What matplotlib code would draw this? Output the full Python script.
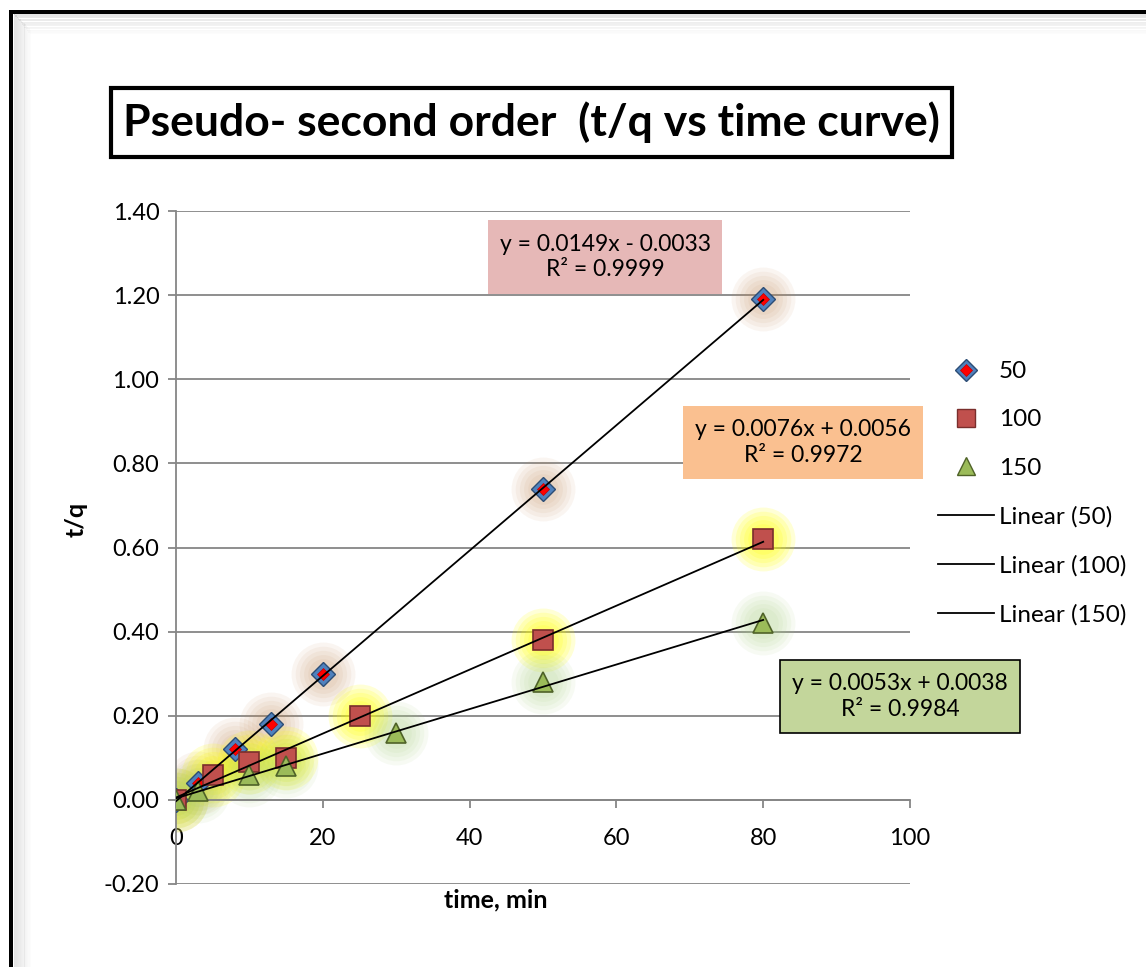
import numpy as np
import matplotlib
matplotlib.use("Agg")
import matplotlib.pyplot as plt
from matplotlib.patches import Rectangle
from matplotlib.lines import Line2D

plt.rcParams['font.family'] = ['Lato', 'DejaVu Sans']

# datos
t50 = [0, 3, 8, 13, 20, 50, 80]
q50 = [0.00, 0.04, 0.12, 0.18, 0.30, 0.74, 1.19]
t100 = [0, 5, 10, 15, 25, 50, 80]
q100 = [0.00, 0.06, 0.09, 0.10, 0.20, 0.38, 0.62]
t150 = [0, 3, 10, 15, 30, 50, 80]
q150 = [0.00, 0.02, 0.06, 0.08, 0.16, 0.28, 0.42]

# pendientes e interceptos de las lineas de tendencia
slopes = [0.0149, 0.0076, 0.0053]
intercepts = [-0.0033, 0.0056, 0.0038]
r2 = [0.9999, 0.9972, 0.9984]
series_names = ['50', '100', '150']

xticks = [0, 20, 40, 60, 80, 100]
yticks = [-0.20, 0.00, 0.20, 0.40, 0.60, 0.80, 1.00, 1.20, 1.40]

W, H = 1146, 967
fig = plt.figure(figsize=(W / 100, H / 100), dpi=100)

def fx(x):
    return x / W

def fy(y):
    return 1 - y / H

# marco exterior con sombra
for i, a in enumerate(np.linspace(0.25, 0.0, 14)):
    fig.add_artist(Rectangle((fx(14 + i * 1.3), 0), 0.0013, fy(14 + i * 1.3),
                             transform=fig.transFigure, color='#909090', alpha=a, lw=0))
    fig.add_artist(Rectangle((fx(14 + i * 1.3), fy(15 + i * 1.6)), 1, 0.0012,
                             transform=fig.transFigure, color='#909090', alpha=a, lw=0))
fig.add_artist(Rectangle((fx(9), 0), fx(4), fy(10),
                         transform=fig.transFigure, color='black', lw=0))
fig.add_artist(Rectangle((fx(9), fy(14)), 1, 4 / H,
                         transform=fig.transFigure, color='black', lw=0))

ax = fig.add_axes([fx(176), fy(884), fx(910) - fx(176), fy(211) - fy(884)])

glow_colors = ['#c08858', '#ffff00', '#a8d080']
glow_alpha = [0.08, 0.16, 0.09]
data = [(t50, q50), (t100, q100), (t150, q150)]

# resplandor alrededor de los puntos
for (t, q), gc, ga in zip(data, glow_colors, glow_alpha):
    for ms in [46, 40, 34, 28, 22]:
        ax.plot(t, q, 'o', ms=ms, color=gc, alpha=ga, mec='none', zorder=2)

# lineas de tendencia
xl = np.array([0, 80])
for m, b in zip(slopes, intercepts):
    ax.plot(xl, m * xl + b, color='black', lw=1.3, zorder=6)

h50a, = ax.plot(t50, q50, 'D', ms=12, color='#4f81bd', mec='#2c4d75', mew=1.0, zorder=5)
h50b, = ax.plot(t50, q50, 'D', ms=6.5, color='#ff0000', mec='#c00000', mew=0.5, zorder=5)
h100, = ax.plot(t100, q100, 's', ms=15, color='#c0504d', mec='#7a2e2c', mew=1.2, zorder=5)
h150, = ax.plot(t150, q150, '^', ms=15, color='#9bbb59', mec='#4f6228', mew=1.2, zorder=5)

ax.set_xlim(0, 100)
ax.set_ylim(-0.20, 1.40)
ax.set_xticks(xticks)
ax.set_yticks(yticks)
ax.set_yticklabels(['%.2f' % v for v in yticks])
ax.yaxis.grid(True, color='#868686', lw=1.3)
ax.set_axisbelow(True)
for s in ['top', 'right']:
    ax.spines[s].set_visible(False)
ax.spines['bottom'].set_position(('data', 0))
for s in ['left', 'bottom']:
    ax.spines[s].set_color('#868686')
    ax.spines[s].set_linewidth(1.3)
ax.tick_params(axis='y', direction='out', length=6, width=1.3, color='#868686',
               labelsize=17, pad=6)
ax.tick_params(axis='x', direction='out', length=6, width=1.3, color='#868686',
               labelsize=17, pad=14)

ax.set_xlabel('time, min', fontsize=18, fontweight='bold')
ax.xaxis.set_label_coords(0.435, -0.006)
ax.set_ylabel('t/q', fontsize=18, fontweight='bold')
ax.yaxis.set_label_coords(-0.12, 0.541)

# leyenda
lin = [Line2D([], [], color='black', lw=1.3) for _ in range(3)]
l50a = Line2D([], [], ls='', marker='D', ms=11, color='#4f81bd', mec='#2c4d75')
l50b = Line2D([], [], ls='', marker='D', ms=6, color='#ff0000', mec='#c00000', mew=0.5)
l100 = Line2D([], [], ls='', marker='s', ms=13, color='#c0504d', mec='#7a2e2c')
l150 = Line2D([], [], ls='', marker='^', ms=13, color='#9bbb59', mec='#4f6228')
handles = [(l50a, l50b), l100, l150] + lin
labels = series_names + ['Linear (%s)' % s for s in series_names]
fig.legend(handles, labels, loc='upper left', bbox_to_anchor=(fx(938), fy(361)),
           frameon=False, fontsize=17.5, labelspacing=1.13, handlelength=2.3,
           handletextpad=0.2, borderaxespad=0, borderpad=0)

# titulo en recuadro
fig.add_artist(Rectangle((fx(111), fy(157)), fx(952) - fx(111), fy(88) - fy(157),
                         transform=fig.transFigure, fill=False, ec='black', lw=3))
fig.text(fx(531), fy(122), 'Pseudo- second order  (t/q vs time curve)',
         fontsize=32, fontweight='bold', ha='center', va='center')

# cajas con ecuaciones
boxes = [(488, 220, 722, 294, '#e6b8b7', None),
         (683, 406, 923, 479, '#fac090', None),
         (780, 660, 1020, 733, '#c3d69b', 'black')]
for (x0, y0, x1, y1, fc, ec), m, b, r in zip(boxes, slopes, intercepts, r2):
    fig.add_artist(Rectangle((fx(x0), fy(y1)), fx(x1) - fx(x0), fy(y0) - fy(y1),
                             transform=fig.transFigure, fc=fc,
                             ec=ec if ec else 'none', lw=1.2, zorder=7))
    sign = '-' if b < 0 else '+'
    eq = 'y = %.4fx %s %.4f\nR² = %.4f' % (m, sign, abs(b), r)
    fig.text(fx((x0 + x1) / 2), fy((y0 + y1) / 2), eq, fontsize=16.5,
             ha='center', va='center', linespacing=1.25, zorder=8)

fig.savefig('out.png', dpi=100)
